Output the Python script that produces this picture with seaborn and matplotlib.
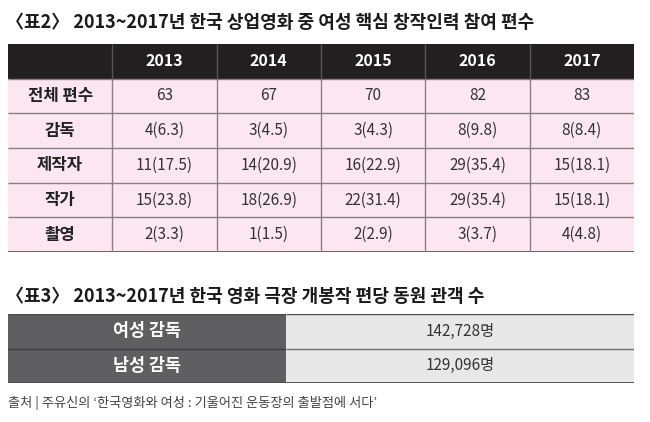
import numpy as np
import matplotlib
matplotlib.use("Agg")
import matplotlib.pyplot as plt
from matplotlib.colors import ListedColormap
import seaborn as sns

sns.set_theme(style="white")
plt.rcParams['font.family'] = ['Noto Sans CJK KR', 'DejaVu Sans']

# 데이터
years = ["2013", "2014", "2015", "2016", "2017"]
roles = ["전체 편수", "감독", "제작자", "작가", "촬영"]
total = [63, 67, 70, 82, 83]
director = [4, 3, 3, 8, 8]
director_pct = [6.3, 4.5, 4.3, 9.8, 8.4]
producer = [11, 14, 16, 29, 15]
producer_pct = [17.5, 20.9, 22.9, 35.4, 18.1]
writer = [15, 18, 22, 29, 15]
writer_pct = [23.8, 26.9, 31.4, 35.4, 18.1]
camera = [2, 1, 2, 3, 4]
camera_pct = [3.3, 1.5, 2.9, 3.7, 4.8]

genders = ["여성 감독", "남성 감독"]
audience = [142728, 129096]

title2 = "〈표2〉 2013~2017년 한국 상업영화 중 여성 핵심 창작인력 참여 편수"
title3 = "〈표3〉 2013~2017년 한국 영화 극장 개봉작 편당 동원 관객 수"
source = "출처 | 주유신의 ‘한국영화와 여성 : 기울어진 운동장의 출발점에 서다’"

# 표 텍스트
rows = [[str(v) for v in total]]
for n, p in [(director, director_pct), (producer, producer_pct),
             (writer, writer_pct), (camera, camera_pct)]:
    rows.append([f"{a}({b})" for a, b in zip(n, p)])

W, H = 650, 422
fig = plt.figure(figsize=(6.5, 4.22), dpi=100)

def px_axes(x0, y0, x1, y1):
    return fig.add_axes([x0 / W, 1 - y1 / H, (x1 - x0) / W, (y1 - y0) / H])

# 표2
fig.text(6 / W, 1 - 22 / H, title2, fontsize=13, fontweight="bold",
         color="#1a1a1a", va="center", ha="left")

ax1 = px_axes(8, 44, 634, 252)
kind = np.ones((6, 6))
kind[0, :] = 0
sns.heatmap(kind, ax=ax1, cmap=ListedColormap(["#231f20", "#fce7f0"]),
            vmin=0, vmax=1, cbar=False, xticklabels=False, yticklabels=False)
ax1.hlines(range(1, 6), 0, 6, color="#8a7e86", lw=1)
ax1.hlines(6, 0, 6, color="#5e5459", lw=1.3)
ax1.vlines(range(1, 6), 1, 6, color="#8a7e86", lw=1)
ax1.vlines(range(1, 6), 0, 1, color="#58534f", lw=1)
for j, y in enumerate(years):
    ax1.text(j + 1.5, 0.5, y, ha="center", va="center", color="white",
             fontsize=11.5, fontweight="bold")
for i, r in enumerate(roles):
    ax1.text(0.5, i + 1.5, r, ha="center", va="center", color="#222222",
             fontsize=12, fontweight="bold")
    for j, s in enumerate(rows[i]):
        ax1.text(j + 1.5, i + 1.5, s, ha="center", va="center",
                 color="#333333", fontsize=11)

# 표3
fig.text(6 / W, 1 - 296 / H, title3, fontsize=13, fontweight="bold",
         color="#1a1a1a", va="center", ha="left")

ax2 = px_axes(8, 314, 286, 383)
ax3 = px_axes(286, 314, 634, 383)
sns.heatmap(np.zeros((2, 1)), ax=ax2, cmap=ListedColormap(["#5f5f62"]),
            cbar=False, xticklabels=False, yticklabels=False)
sns.heatmap(np.zeros((2, 1)), ax=ax3, cmap=ListedColormap(["#e8e8e9"]),
            cbar=False, xticklabels=False, yticklabels=False)
ax2.hlines(1, 0, 1, color="#3e3e40", lw=1)
ax3.hlines(1, 0, 1, color="#6e6e70", lw=1)
for ax in (ax2, ax3):
    ax.hlines(0, 0, 1, color="#4a4a4c", lw=1)
    ax.hlines(2, 0, 1, color="#4a4a4c", lw=1.3)
for i, (g, a) in enumerate(zip(genders, audience)):
    ax2.text(0.5, i + 0.5, g, ha="center", va="center", color="white",
             fontsize=12.5, fontweight="bold")
    ax3.text(0.5, i + 0.5, f"{a:,}명", ha="center", va="center",
             color="#333333", fontsize=11)

fig.text(8 / W, 1 - 403 / H, source, fontsize=9.5, color="#444444",
         va="center", ha="left")

fig.savefig("out.png", dpi=100)
